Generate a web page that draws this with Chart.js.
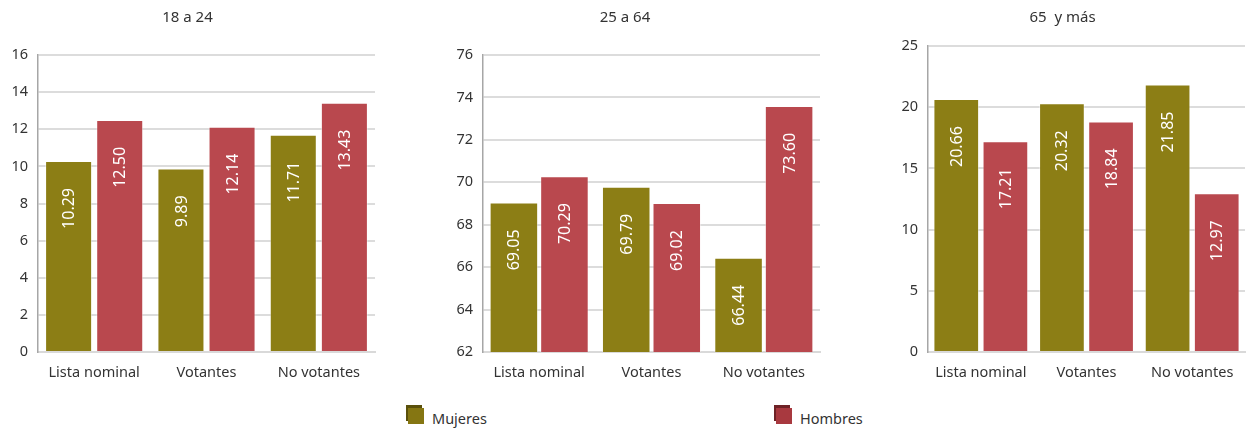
<!DOCTYPE html>
<html>
<head>
<meta charset="utf-8">
<script src="https://cdn.jsdelivr.net/npm/chart.js@4.4.1/dist/chart.umd.min.js"></script>
<style>
  html, body { margin: 0; padding: 0; background: #fff; }
  body { width: 1249px; height: 428px; position: relative; overflow: hidden; font-family: "Noto Sans", sans-serif; }
  .box { position: absolute; top: 0; height: 390px; }
  .legend { position: absolute; top: 408px; font-size: 14.5px; color: #333; line-height: 20px; }
  .legend i {
    position: absolute; left: 2px; top: 0px; width: 16px; height: 16px;
  }
  .legend span { position: absolute; left: 26px; top: 0; white-space: nowrap; }
</style>
</head>
<body>
<div class="box" style="left:0;width:390px"><canvas id="c1"></canvas></div>
<div class="box" style="left:430px;width:400px"><canvas id="c2"></canvas></div>
<div class="box" style="left:880px;width:369px"><canvas id="c3"></canvas></div>
<div class="legend" style="left:406px"><i style="background:#857612;box-shadow:-2px -3px 0 0 #5a500b"></i><span>Mujeres</span></div>
<div class="legend" style="left:774px"><i style="background:#a8393f;box-shadow:-2px -3px 0 0 #6e2226"></i><span>Hombres</span></div>
<script>
(function() {
  'use strict';

  // ===== 数据 =====
  const categories = ['Lista nominal', 'Votantes', 'No votantes'];
  const seriesNames = ['Mujeres', 'Hombres'];

  const mujeres18 = [10.29, 9.89, 11.71];
  const hombres18 = [12.50, 12.14, 13.43];
  const mujeres25 = [69.05, 69.79, 66.44];
  const hombres25 = [70.29, 69.02, 73.60];
  const mujeres65 = [20.66, 20.32, 21.85];
  const hombres65 = [17.21, 18.84, 12.97];

  const titles = ['18 a 24', '25 a 64', '65  y más'];

  const COLOR_M = '#8c7e15';
  const COLOR_H = '#b9484e';
  const FONT = '"Noto Sans", sans-serif';

  // 柱内竖排数值
  const barLabels = {
    id: 'barLabels',
    afterDatasetsDraw(chart) {
      const ctx = chart.ctx;
      chart.data.datasets.forEach((ds, i) => {
        chart.getDatasetMeta(i).data.forEach((bar, j) => {
          ctx.save();
          ctx.translate(bar.x + 1, bar.y + 27);
          ctx.rotate(-Math.PI / 2);
          ctx.font = '16px ' + FONT;
          ctx.fillStyle = '#fff';
          ctx.textAlign = 'right';
          ctx.textBaseline = 'middle';
          ctx.fillText(ds.data[j].toFixed(2), 0, 0);
          ctx.restore();
        });
      });
    }
  };

  function makeChart(id, title, dataM, dataH, cfg) {
    const ctx = document.getElementById(id).getContext('2d');
    return new Chart(ctx, {
      type: 'bar',
      data: {
        labels: categories,
        datasets: [
          { label: seriesNames[0], data: dataM, backgroundColor: COLOR_M,
            borderColor: 'rgba(255,255,255,0.45)', borderWidth: 1,
            categoryPercentage: cfg.catPct, barPercentage: cfg.barPct },
          { label: seriesNames[1], data: dataH, backgroundColor: COLOR_H,
            borderColor: 'rgba(255,255,255,0.45)', borderWidth: 1,
            categoryPercentage: cfg.catPct, barPercentage: cfg.barPct }
        ]
      },
      options: {
        responsive: true,
        maintainAspectRatio: false,
        animation: false,
        layout: { padding: { left: 0, right: cfg.padRight, top: 9, bottom: 0 } },
        plugins: {
          legend: { display: false },
          tooltip: { enabled: false },
          title: {
            display: true, text: title, color: '#333',
            font: { family: FONT, size: 15, weight: 'normal' },
            padding: { top: 0, bottom: cfg.titleGap }
          }
        },
        scales: {
          x: {
            grid: { display: false },
            border: { color: '#d9d9d9', width: 2 },
            ticks: { color: '#333', font: { family: FONT, size: 14.5 }, padding: 4 },
            afterFit(s) { s.height = 38; }
          },
          y: {
            min: cfg.min, max: cfg.max,
            ticks: { stepSize: cfg.step, color: '#333', font: { family: FONT, size: 14.5 }, padding: 10 },
            grid: { color: '#dcdcdc', lineWidth: 2, drawTicks: false },
            border: { color: '#a6a6a6', width: 1.5 },
            afterFit(s) { s.width = cfg.yWidth; }
          }
        }
      },
      plugins: [barLabels]
    });
  }

  makeChart('c1', titles[0], mujeres18, hombres18,
    { min: 0, max: 16, step: 2, yWidth: 38, padRight: 15, titleGap: 28, catPct: 0.91, barPct: 0.92 });
  makeChart('c2', titles[1], mujeres25, hombres25,
    { min: 62, max: 76, step: 2, yWidth: 53, padRight: 10, titleGap: 28, catPct: 0.9, barPct: 0.96 });
  makeChart('c3', titles[2], mujeres65, hombres65,
    { min: 0, max: 25, step: 5, yWidth: 48, padRight: 4, titleGap: 19, catPct: 0.93, barPct: 0.93 });

})();
</script>
</body>
</html>
